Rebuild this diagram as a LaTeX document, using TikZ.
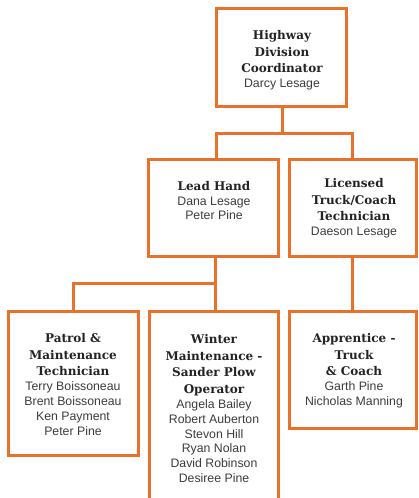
\documentclass[tikz,border=0pt]{standalone}
\usepackage{fontspec}
\setmainfont{Liberation Sans}
\newfontfamily\slabfont{DejaVu Serif}
\definecolor{org}{RGB}{232,114,44}
\definecolor{tcol}{RGB}{35,35,35}
\definecolor{ncol}{RGB}{60,60,60}
\newcommand{\ttl}[1]{{\slabfont\bfseries\fontsize{12}{15}\selectfont\color{tcol}#1}}
\tikzset{
  box/.style={draw=org, line width=3pt, fill=white, rectangle, inner sep=0pt},
  txt/.style={anchor=north, align=center, inner sep=0pt, text=ncol, font=\fontsize{12.3}{14.8}\selectfont},
  conn/.style={draw=org, line width=3pt}
}
\begin{document}
\begin{tikzpicture}[x=1pt,y=-1pt]
\useasboundingbox (0,0) rectangle (418,498);
\clip (0,0) rectangle (418,498);
\fill[white] (0,0) rectangle (418,498);
% bus coordinates
\coordinate (busL) at (216,133);
\coordinate (busR) at (352,133);
\coordinate (b2L) at (73,283);
\coordinate (b2R) at (215,283);
\coordinate (b3) at (352,283);
% boxes
\node[box, minimum width=130pt, minimum height=98pt] (top) at (281,57) {};
\node[box, minimum width=130pt, minimum height=97pt] (lead) at (213,207.5) {};
\node[box, minimum width=127.5pt, minimum height=97pt] (lic) at (352.75,207.5) {};
\node[box, minimum width=130pt, minimum height=144pt] (patrol) at (73,383) {};
\node[box, minimum width=129pt, minimum height=199pt] (winter) at (213.5,410.5) {};
\node[box, minimum width=127.5pt, minimum height=117pt] (appr) at (352.75,369.5) {};
% connectors
\draw[conn] (top.south -| 282,0) -- (282,133);
\draw[conn] (lead.north -| busL) |- (busR) -- (busR |- lic.north);
\draw[conn] (lead.south -| b2R) -- (winter.north -| b2R);
\draw[conn] (b2R) -- (b2L) -- (b2L |- patrol.north);
\draw[conn] (lic.south -| b3) -- (appr.north -| b3);
% texts
\node[txt] (topT) at (282,30) {\ttl{Highway}\\[2pt]\ttl{Division}\\[2pt]\ttl{Coordinator}\\Darcy Lesage};
\node[txt] (leadT) at (214,181) {\ttl{Lead Hand}\\Dana Lesage\\Peter Pine};
\node[txt] (licT) at (354,178) {\ttl{Licensed}\\[2pt]\ttl{Truck/Coach}\\[2pt]\ttl{Technician}\\Daeson Lesage};
\node[txt] (patT) at (73,333) {\ttl{Patrol \&}\\[2pt]\ttl{Maintenance}\\[2pt]\ttl{Technician}\\Terry Boissoneau\\Brent Boissoneau\\Ken Payment\\Peter Pine};
\node[txt] (winT) at (214,334) {\ttl{Winter}\\[2pt]\ttl{Maintenance -}\\[2pt]\ttl{Sander Plow}\\[2pt]\ttl{Operator}\\Angela Bailey\\Robert Auberton\\Stevon Hill\\Ryan Nolan\\David Robinson\\Desiree Pine};
\node[txt] (appT) at (354,333) {\ttl{Apprentice -}\\[2pt]\ttl{Truck}\\[2pt]\ttl{\& Coach}\\Garth Pine\\Nicholas Manning};
\end{tikzpicture}
\end{document}
